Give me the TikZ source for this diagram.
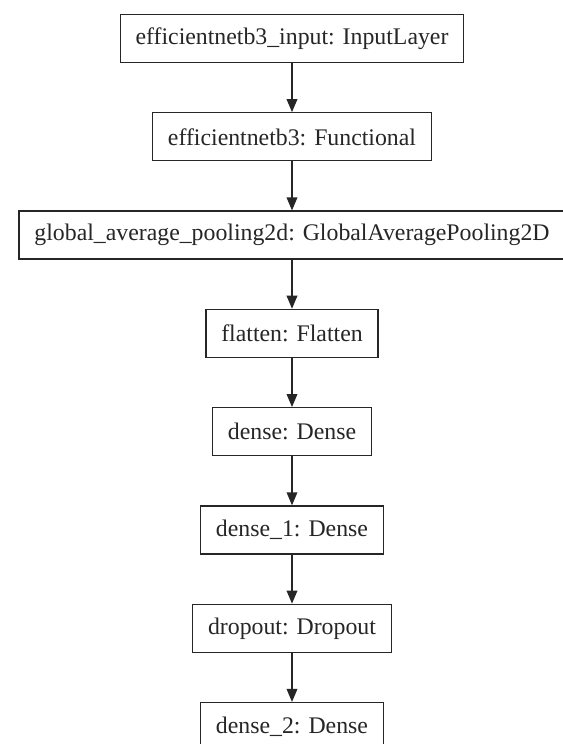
\documentclass[tikz,border=0pt]{standalone}
\usepackage{fontspec}
\setmainfont{Liberation Serif}
\usetikzlibrary{arrows.meta}

\newcommand{\midx}{292}
\newcommand{\firsty}{38.5}
\newcommand{\layerstep}{98.3}

\begin{document}
\begin{tikzpicture}[x=0.75pt,y=0.75pt,
	layer/.style={draw=black!85,line width=1pt,fill=white,minimum height=36pt,inner xsep=11.5pt,inner ysep=0pt,text=black!85,font=\fontsize{17.85}{20}\selectfont},
	flow/.style={draw=black!85,line width=1pt,-{Triangle[length=9.75pt,width=8pt]}}]
	%Keep the page to the size of the picture
	\clip (0,0) rectangle (563,-744);
	%Draw the layers from top to bottom
	\foreach \name/\lbl [count=\i from 0] in {
		input/efficientnetb3\_input: InputLayer,
		backbone/efficientnetb3: Functional,
		gap/global\_average\_pooling2d: GlobalAveragePooling2D,
		flatten/flatten: Flatten,
		denseA/dense: Dense,
		denseB/dense\_1: Dense,
		drop/dropout: Dropout,
		denseC/dense\_2: Dense}
		\node[layer] (\name) at (\midx,-\firsty-\i*\layerstep) {\lbl};
	%Draw the arrows between the layers
	\foreach \a/\b in {input/backbone,backbone/gap,gap/flatten,flatten/denseA,denseA/denseB,denseB/drop,drop/denseC}
		\draw[flow] (\a) -- (\b);
\end{tikzpicture}
\end{document}
